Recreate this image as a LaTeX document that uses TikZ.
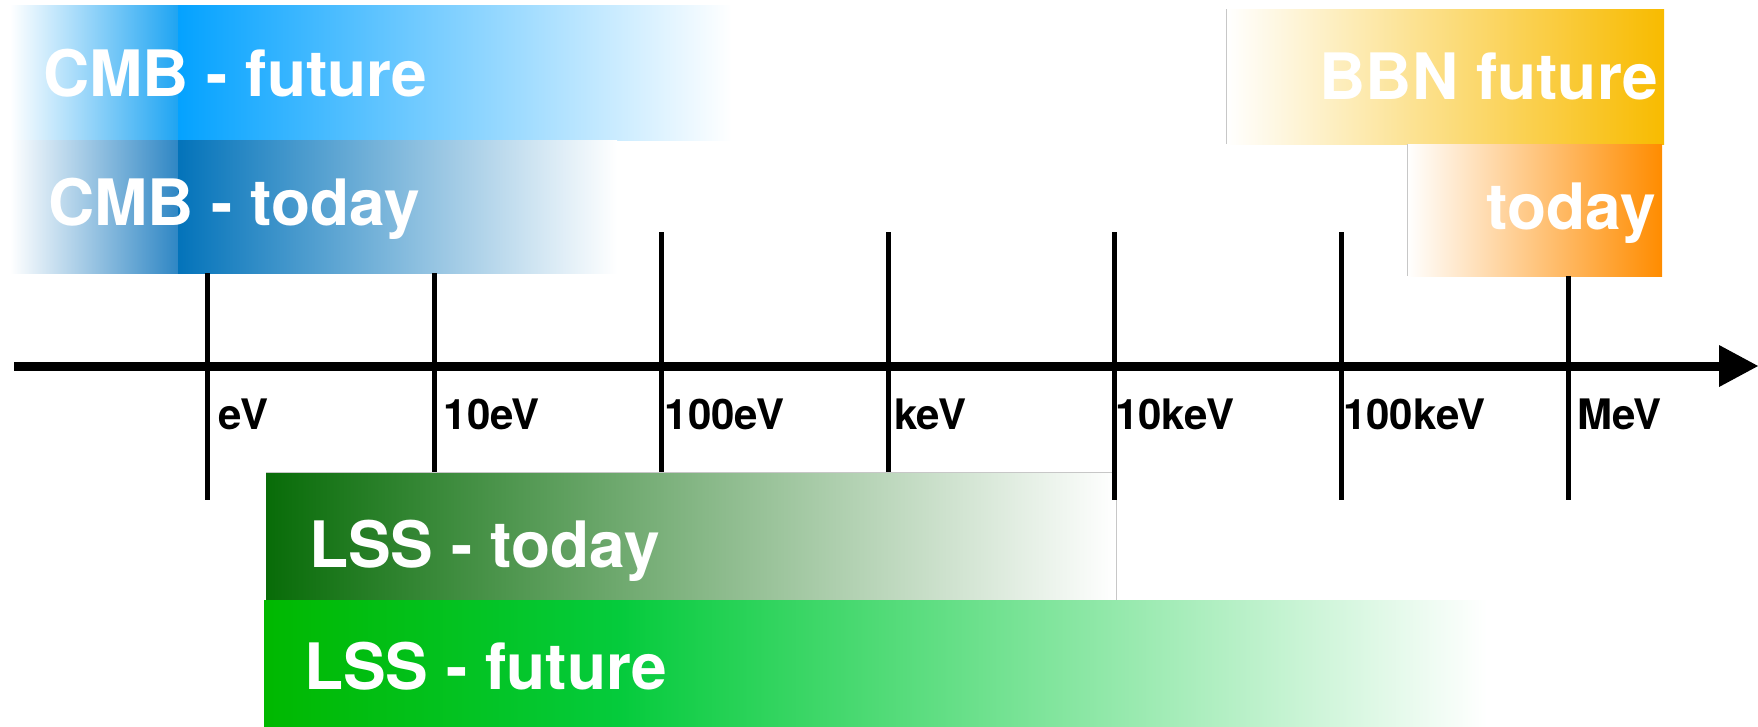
\documentclass[tikz,border=0pt]{standalone}
\usepackage{fontspec}
\setmainfont{TeX Gyre Heros}
\definecolor{cmbF}{RGB}{4,162,255}
\definecolor{cmbFl}{RGB}{30,164,242}
\definecolor{cmbT}{RGB}{3,115,186}
\definecolor{cmbTl}{RGB}{46,134,196}
\definecolor{bbnF}{RGB}{248,187,0}
\definecolor{bbnT}{RGB}{255,140,0}
\definecolor{lssT}{RGB}{8,108,8}
\definecolor{lssF}{RGB}{0,184,0}
\definecolor{lssFm}{RGB}{5,203,60}
\begin{document}
\begin{tikzpicture}[x=1pt,y=-1pt,
  bandlabel/.style={text=white,font=\fontsize{64}{76}\selectfont\bfseries,inner sep=0pt},
  ticklabel/.style={text=black,font=\fontsize{42}{50}\selectfont\bfseries,inner sep=0pt,anchor=base west},
  tickline/.style={line width=5pt},
  bandedge/.style={draw=black!22,line width=1pt}]
\useasboundingbox (0,0) rectangle (1758,726);

% CMB bands (upper left)
\shade[left color=white,right color=cmbFl] (10,5) rectangle (178.5,140.5);
\shade[left color=cmbF,right color=white] (178,5) rectangle (732,140.5);
\shade[left color=white,right color=cmbTl] (10,140) rectangle (178.5,273);
\shade[left color=cmbT,right color=white] (178,140) rectangle (617,273);

% BBN bands (upper right)
\shade[left color=white,right color=bbnF] (1226,9) rectangle (1664,144.5);
\draw[bandedge] (1226,9) -- (1226,144);
\shade[left color=white,right color=bbnT] (1407,144) rectangle (1662,276);
\draw[bandedge] (1407,144) -- (1407,276);

% LSS bands (bottom)
\shade[left color=lssT,right color=white] (266,472) rectangle (1116,602);
\draw[bandedge] (266,472) -- (1116,472) -- (1116,602);
\shade[left color=lssF,right color=lssFm] (264,600) rectangle (620.5,726);
\shade[left color=lssFm,right color=white] (620,600) rectangle (1487,726);

% energy axis
\coordinate (axstart) at (14,366);
\coordinate (axend) at (1720,366);
\draw[line width=9pt] (axstart) -- (axend);
\fill (1719,345) -- (1758,366) -- (1719,387) -- cycle;

% ticks with their labels
\foreach \x/\top/\bot/\lx/\lab in {
  207/273/500/218.5/eV,
  434/273/472/443.5/10eV,
  661/232/472/664.5/100eV,
  888/232/472/894/keV,
  1114/232/500/1115/10keV,
  1341/232/500/1343/100keV,
  1568/276/500/1577/MeV}{
  \draw[tickline] (\x,\top) -- (\x,\bot);
  \node[ticklabel] (lab\lab) at (\lx,429) {\lab};
}

% band labels
\node[bandlabel,anchor=base west] (cmbfuture) at (43,96) {CMB - future};
\node[bandlabel,anchor=base west] (cmbtoday) at (48,225) {CMB - today};
\node[bandlabel,anchor=base east] (bbnfuture) at (1658,99) {BBN future};
\node[bandlabel,anchor=base east] (bbntoday) at (1656,229) {today};
\node[bandlabel,anchor=base west] (lsstoday) at (309,567) {LSS - today};
\node[bandlabel,anchor=base west] (lssfuture) at (304,689) {LSS - future};
\end{tikzpicture}
\end{document}
